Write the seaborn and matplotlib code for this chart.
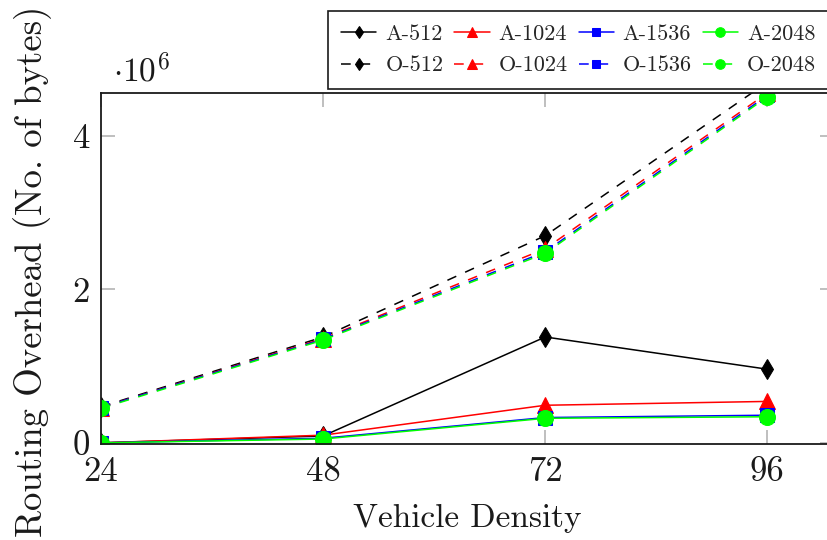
import matplotlib
matplotlib.use("Agg")
import matplotlib.pyplot as plt
import seaborn as sns
import pandas as pd
from matplotlib.ticker import FixedLocator, FuncFormatter

# Vehicle densities on the x axis
density = [24, 48, 72, 96]

# Routing overhead in bytes, A-* (solid) and O-* (dashed) variants
a_512 = [0.0, 0.09e6, 1.38e6, 0.96e6]
a_1024 = [0.0, 0.10e6, 0.49e6, 0.54e6]
a_1536 = [0.0, 0.06e6, 0.33e6, 0.36e6]
a_2048 = [0.0, 0.05e6, 0.32e6, 0.34e6]

o_512 = [0.47e6, 1.38e6, 2.70e6, 4.70e6]
o_1024 = [0.46e6, 1.36e6, 2.53e6, 4.56e6]
o_1536 = [0.46e6, 1.35e6, 2.49e6, 4.53e6]
o_2048 = [0.45e6, 1.34e6, 2.47e6, 4.51e6]

series_names = ["A-512", "A-1024", "A-1536", "A-2048",
                "O-512", "O-1024", "O-1536", "O-2048"]
series_values = [a_512, a_1024, a_1536, a_2048,
                 o_512, o_1024, o_1536, o_2048]

y_ticks = [0, 2e6, 4e6]

rows = []
for name, vals in zip(series_names, series_values):
    for x, v in zip(density, vals):
        rows.append({"density": x, "overhead": v, "series": name})
df = pd.DataFrame(rows)

sns.set_style("ticks")
plt.rcParams["font.family"] = ["cmr10"]
plt.rcParams["mathtext.fontset"] = "cm"
plt.rcParams["axes.formatter.use_mathtext"] = True
plt.rcParams["lines.scale_dashes"] = False

ink = "#1a1a1a"
colors = {"512": "black", "1024": "#ff0000", "1536": "#0000ff", "2048": "#00ff00"}
markers = {"512": "d", "1024": "^", "1536": "s", "2048": "o"}
msizes = {"512": 10, "1024": 11, "1536": 10.5, "2048": 11.5}

fig = plt.figure(figsize=(8.27, 5.40), dpi=100)
ax = fig.add_axes([101 / 827, 96 / 540, 733 / 827, 351 / 540])

for name in series_names:
    kind, size = name.split("-")
    sub = df[df["series"] == name]
    ls = "-" if kind == "A" else (0, (7, 7))
    sns.lineplot(data=sub, x="density", y="overhead", ax=ax,
                 color=colors[size], marker=markers[size],
                 markersize=msizes[size], markeredgecolor=colors[size],
                 linestyle=ls, linewidth=1.1, label=name,
                 legend=False, errorbar=None)

ax.set_xlim(24, 103.2)
ax.set_ylim(-0.015e6, 4.56e6)

ax.xaxis.set_major_locator(FixedLocator(density))
ax.yaxis.set_major_locator(FixedLocator(y_ticks))
ax.yaxis.set_major_formatter(FuncFormatter(lambda v, p: f"{v / 1e6:g}"))
ax.xaxis.set_major_formatter(FuncFormatter(lambda v, p: f"{v:g}"))
ax.tick_params(axis="both", which="major", direction="in", length=10,
               width=1.2, color="#b4b4b4", top=True, right=True,
               labelsize=25, labelcolor=ink)
ax.tick_params(axis="x", pad=9)
ax.tick_params(axis="y", pad=8)
for sp in ax.spines.values():
    sp.set_visible(True)
    sp.set_color(ink)
    sp.set_linewidth(1.3)

ax.set_xlabel("Vehicle Density", fontsize=24, color=ink)
ax.xaxis.label.set_va("baseline")
ax.xaxis.set_label_coords(0.4993, -(527 - 444) / 351)

ax.set_ylabel("Routing Overhead (No. of bytes)", fontsize=26.5, color=ink)
ax.yaxis.label.set_va("baseline")
ax.yaxis.set_label_coords(-(101 - 42) / 733, (444 - 271.5) / 351)

fig.text(113 / 827, 1 - 82 / 540, r"$\cdot 10^{6}$", fontsize=24,
         ha="left", va="baseline", color=ink)

# Legend: A-* on the first row, O-* on the second
h, l = ax.get_legend_handles_labels()
order = []
for i in range(4):
    order += [i, i + 4]
leg = fig.legend([h[i] for i in order], [l[i] for i in order], ncol=4,
                 loc="upper left", bbox_to_anchor=(328 / 827, 1 - 11 / 540),
                 fontsize=16, frameon=True, fancybox=False,
                 edgecolor=ink, framealpha=1, handlelength=1.58,
                 handletextpad=0.4, columnspacing=0.5, borderpad=0.6,
                 labelspacing=0.54, markerscale=0.6, borderaxespad=0)
leg.get_frame().set_linewidth(1.2)

fig.savefig("out.png", dpi=100)
